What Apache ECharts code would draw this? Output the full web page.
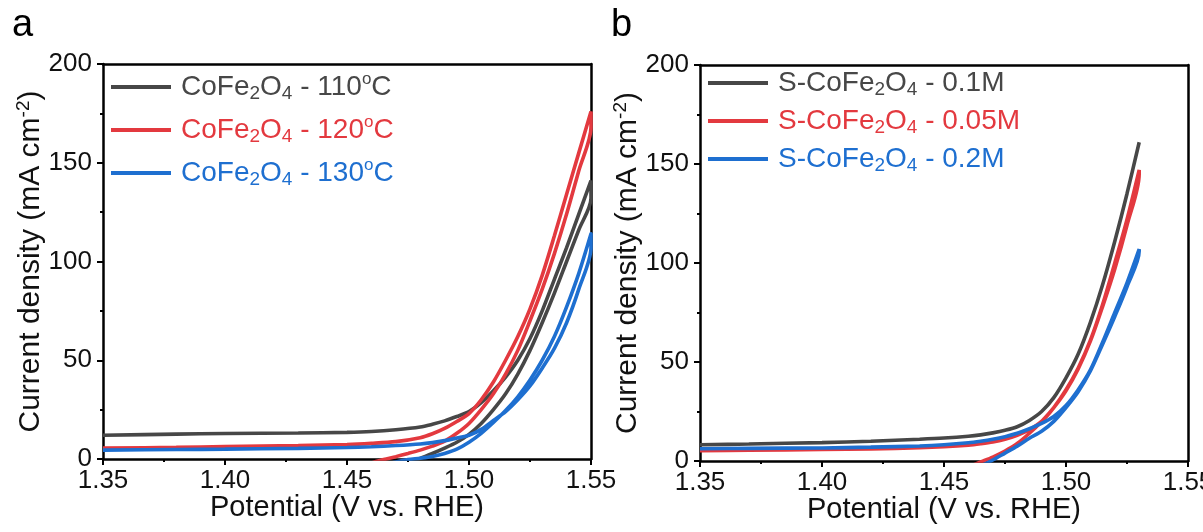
<!DOCTYPE html>
<html><head><meta charset="utf-8">
<script src="https://cdn.jsdelivr.net/npm/echarts/dist/echarts.min.js"></script>
<style>html,body{margin:0;padding:0;background:#fff}#c{width:1203px;height:532px}</style>
</head><body><div id="c"></div>
<script>
// ---------- data ----------
const xTicks = [1.35, 1.40, 1.45, 1.50, 1.55];
const yTicks = [0, 50, 100, 150, 200];

const namesA = ['CoFe2O4 - 110oC', 'CoFe2O4 - 120oC', 'CoFe2O4 - 130oC'];
const namesB = ['S-CoFe2O4 - 0.1M', 'S-CoFe2O4 - 0.05M', 'S-CoFe2O4 - 0.2M'];

// panel a: forward scan (1.35 -> 1.55) and reverse scan (1.55 -> 1.46)
const potA_fwd = [1.35, 1.38, 1.40, 1.43, 1.45, 1.46, 1.47, 1.48, 1.485, 1.49, 1.495, 1.50, 1.505, 1.51, 1.515, 1.52, 1.525, 1.53, 1.535, 1.54, 1.545, 1.55];
const potA_rev = [1.55, 1.545, 1.54, 1.535, 1.53, 1.525, 1.52, 1.515, 1.51, 1.505, 1.50, 1.495, 1.49, 1.485, 1.48, 1.475, 1.47, 1.465, 1.46];
const a110_fwd = [12.0, 12.6, 12.9, 13.2, 13.5, 13.9, 14.8, 16.2, 17.6, 19.3, 21.5, 24.0, 28.5, 34.5, 41.5, 50, 61, 75, 91, 107, 124, 141];
const a110_rev = [132, 116, 100, 84, 69, 55, 43, 33, 25, 18, 12.5, 8.5, 5.5, 2.8, 0.3, -1.8, -4, -6, -8];
const a120_fwd = [5.5, 5.9, 6.3, 6.8, 7.3, 7.9, 8.8, 10.8, 12.8, 15.5, 19.0, 23.0, 30, 39, 50, 62, 76, 93, 113, 134, 155, 176];
const a120_rev = [168, 146, 124, 104, 86, 70, 55, 43, 33, 25, 18, 13, 9, 6.5, 4.5, 2.8, 1.2, -0.3, -2];
const a130_fwd = [4.5, 4.8, 5.0, 5.4, 5.8, 6.2, 6.8, 7.6, 8.3, 9.3, 10.6, 12.0, 15, 19.5, 24, 30, 37, 46, 56, 69, 86, 107];
const a130_rev = [114, 94, 77, 62, 50, 40, 31.5, 24.5, 18.5, 13, 8.5, 5, 2.8, 1.3, 0.4, -0.3, -1.5, -3, -4.5];

// panel b
const potB_fwd = [1.35, 1.37, 1.40, 1.42, 1.44, 1.45, 1.46, 1.465, 1.47, 1.475, 1.48, 1.485, 1.49, 1.495, 1.50, 1.505, 1.51, 1.515, 1.52, 1.525, 1.53];
const potB_rev = [1.53, 1.525, 1.52, 1.515, 1.51, 1.505, 1.50, 1.495, 1.49, 1.485, 1.48, 1.475, 1.47, 1.465, 1.46];
const b01_fwd  = [8.2, 8.6, 9.3, 10.0, 11.0, 11.6, 12.5, 13.2, 14.2, 15.5, 17.3, 20.5, 25, 32, 42, 54, 70, 89, 111, 135, 161];
const b005_fwd = [5.2, 5.4, 5.8, 6.1, 6.7, 7.2, 8.0, 8.7, 9.6, 11, 13, 15.8, 20, 27, 36, 47, 61, 79, 100, 122, 147];
const b005_rev = [145, 119, 97, 78, 60.5, 46.5, 35.5, 27, 20, 14, 8.8, 5, 2, -0.5, -3];
const b02_fwd  = [6.2, 6.4, 6.6, 7.0, 7.6, 8.2, 9.2, 10, 11, 12.3, 14, 16.3, 19, 22.5, 28, 36, 46, 60, 75, 90, 107];
const b02_rev  = [106, 88, 73, 59, 45.5, 35, 27, 20, 15, 11.5, 7.5, 4, 0.5, -2.5, -5];

// ---------- styling ----------
const FONT = '"Liberation Sans", Arial, Helvetica, sans-serif';
const GRAY = '#474747', RED = '#e3393f', BLUE = '#1e6fd0';
const colors = [GRAY, RED, BLUE];

function zip(xs, ys) { return xs.map((x, i) => [x, ys[i]]); }
function loop(px1, y1, px2, y2) { return px2 ? zip(px1, y1).concat(zip(px2, y2)) : zip(px1, y1); }

function richName(name) {
  return '{f|' + name.replace('Fe2O4', 'Fe}{s|2}{n|O}{s|4}{n|').replace(/oC$/, '}{p|o}{n|C') + '}';
}
function richFor(color) {
  return {
    f: {fontSize: 28, lineHeight: 32, color, fontFamily: FONT, padding: [0, 0, 0, 5]},
    n: {fontSize: 28, lineHeight: 32, color, fontFamily: FONT},
    s: {fontSize: 19, lineHeight: 10, verticalAlign: 'bottom', color, fontFamily: FONT},
    p: {fontSize: 17, lineHeight: 18, verticalAlign: 'top', color, fontFamily: FONT}
  };
}

const axisLineStyle = {color: '#000', width: 2.5};
function mkX(gi) {
  return {
    type: 'value', gridIndex: gi, position: 'bottom', min: xTicks[0], max: xTicks[xTicks.length - 1], interval: 0.05,
    name: 'Potential (V vs. RHE)', nameLocation: 'middle', nameGap: 34, nameMoveOverlap: false,
    nameTextStyle: {fontSize: 29, color: '#111', fontFamily: FONT},
    axisLine: {show: true, onZero: false, lineStyle: axisLineStyle},
    axisTick: {show: true, inside: false, length: 6, lineStyle: {color: '#000', width: 2}},
    minorTick: {show: true, splitNumber: 2, length: 3, lineStyle: {color: '#000', width: 2}},
    axisLabel: {fontSize: 26, color: '#111', margin: 9, fontFamily: FONT, hideOverlap: false,
      formatter: v => v.toFixed(2)},
    splitLine: {show: false}, minorSplitLine: {show: false}
  };
}
function mkY(gi) {
  return {
    type: 'value', gridIndex: gi, position: 'left', min: yTicks[0], max: yTicks[yTicks.length - 1], interval: 50,
    name: '{n|Current density (mA cm}{p|-2}{n|)}', nameLocation: 'middle', nameGap: 55, nameMoveOverlap: false,
    nameTextStyle: {color: '#111', fontFamily: FONT, rich: {
      n: {fontSize: 30, lineHeight: 34, color: '#111', fontFamily: FONT},
      p: {fontSize: 19, lineHeight: 20, verticalAlign: 'top', color: '#111', fontFamily: FONT}
    }},
    axisLine: {show: true, onZero: false, lineStyle: axisLineStyle},
    axisTick: {show: true, inside: false, length: 6, lineStyle: {color: '#000', width: 2}},
    minorTick: {show: true, splitNumber: 2, length: 3, lineStyle: {color: '#000', width: 2}},
    axisLabel: {fontSize: 26, color: '#111', margin: 11, fontFamily: FONT, hideOverlap: false},
    splitLine: {show: false}, minorSplitLine: {show: false}
  };
}
function mkXTop(gi) {
  return {type: 'value', gridIndex: gi, position: 'top', min: xTicks[0], max: xTicks[xTicks.length - 1],
    axisLine: {show: true, onZero: false, lineStyle: axisLineStyle}, axisTick: {show: false},
    axisLabel: {show: false}, splitLine: {show: false}};
}
function mkYRight(gi) {
  return {type: 'value', gridIndex: gi, position: 'right', min: yTicks[0], max: yTicks[yTicks.length - 1],
    axisLine: {show: true, onZero: false, lineStyle: axisLineStyle}, axisTick: {show: false},
    axisLabel: {show: false}, splitLine: {show: false}};
}
function mkSeries(name, color, gi, data) {
  return {name, type: 'line', xAxisIndex: gi, yAxisIndex: gi, data, color,
    showSymbol: false, symbol: 'none', smooth: 0.3, clip: true, silent: true,
    lineStyle: {color, width: 3.6}};
}
function mkLegend(names, left, top, gap) {
  return {orient: 'vertical', left, top, itemWidth: 60, itemHeight: 4, itemGap: gap, padding: 0,
    icon: 'rect', selectedMode: false, formatter: richName,
    textStyle: {fontFamily: FONT, fontSize: 28},
    data: names.map((n, i) => ({name: n, itemStyle: {color: colors[i]},
      textStyle: {color: colors[i], rich: richFor(colors[i])}}))};
}

const option = {
  animation: false,
  backgroundColor: '#fff',
  title: [
    {text: 'a', left: 12, top: 7, padding: 0, textStyle: {fontSize: 38, fontWeight: 'normal', color: '#000', fontFamily: FONT}},
    {text: 'b', left: 611, top: 7, padding: 0, textStyle: {fontSize: 38, fontWeight: 'normal', color: '#000', fontFamily: FONT}}
  ],
  grid: [
    {left: 103, top: 64, width: 488, height: 395, containLabel: false, outerBoundsMode: 'none'},
    {left: 700, top: 65, width: 488, height: 396, containLabel: false, outerBoundsMode: 'none'}
  ],
  xAxis: [mkX(0), mkX(1), mkXTop(0), mkXTop(1)],
  yAxis: [mkY(0), mkY(1), mkYRight(0), mkYRight(1)],
  legend: [mkLegend(namesA, 111, 71, 11), mkLegend(namesB, 708, 69, 8)],
  series: [
    mkSeries(namesA[0], GRAY, 0, loop(potA_fwd, a110_fwd, potA_rev, a110_rev)),
    mkSeries(namesA[1], RED, 0, loop(potA_fwd, a120_fwd, potA_rev, a120_rev)),
    mkSeries(namesA[2], BLUE, 0, loop(potA_fwd, a130_fwd, potA_rev, a130_rev)),
    mkSeries(namesB[0], GRAY, 1, loop(potB_fwd, b01_fwd)),
    mkSeries(namesB[1], RED, 1, loop(potB_fwd, b005_fwd, potB_rev, b005_rev)),
    mkSeries(namesB[2], BLUE, 1, loop(potB_fwd, b02_fwd, potB_rev, b02_rev))
  ]
};
echarts.init(document.getElementById('c'), null, {renderer: 'canvas'}).setOption(option);
</script>
</body></html>
